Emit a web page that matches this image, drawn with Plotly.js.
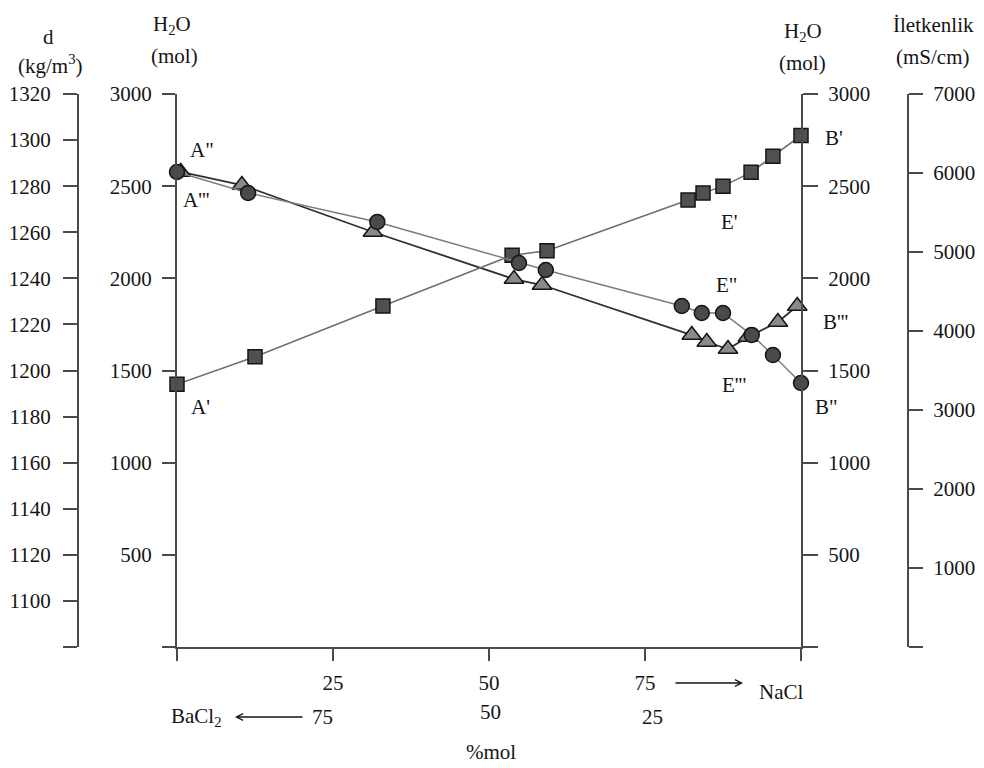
<!DOCTYPE html>
<html><head><meta charset="utf-8">
<script src="https://cdn.plot.ly/plotly-3.0.1.min.js"></script>
<style>html,body{margin:0;padding:0;background:#fff}</style>
</head><body><div id="chart" style="width:984px;height:768px"></div>
<script>
// ---- data ----
// squares: density d (kg/m3)
const molPctSquares = [0, 12.5, 33, 53.7, 59.3, 81.9, 84.3, 87.5, 92, 95.5, 100];
const densityValues = [1194, 1206, 1228, 1250, 1252, 1274, 1277, 1280, 1286, 1293, 1302];
// circles: H2O (mol)
const molPctCircles = [0, 11.4, 32.1, 54.8, 59.1, 80.9, 84.1, 87.5, 92.1, 95.5, 100];
const waterValues = [2577, 2463, 2306, 2083, 2045, 1850, 1812, 1812, 1693, 1584, 1432];
// triangles: conductivity (mS/cm)
const molPctTriangles = [0.6, 10.4, 31.4, 54.0, 58.5, 82.5, 84.9, 88.3, 91.5, 96.3, 99.4];
const conductivityValues = [6013, 5848, 5253, 4658, 4582, 3949, 3861, 3772, 3924, 4114, 4316];

// axis ticks
const xTickVals = [0, 25, 50, 75, 100];
const xTickText = ['', '25', '50', '75', ''];
const dTickVals = [1080,1100,1120,1140,1160,1180,1200,1220,1240,1260,1280,1300,1320];
const dTickText = ['', '1100','1120','1140','1160','1180','1200','1220','1240','1260','1280','1300','1320'];
const waterTickVals = [0, 500, 1000, 1500, 2000, 2500, 3000];
const waterTickText = ['', '500', '1000', '1500', '2000', '2500', '3000'];
const condTickVals = [0, 1000, 2000, 3000, 4000, 5000, 6000, 7000];
const condTickText = ['', '1000', '2000', '3000', '4000', '5000', '6000', '7000'];

// ---- layout helpers ----
const W = 984, H = 768, TOP = 94, BOT = 647;
const PX = v => v / W;
const PY = v => (BOT - v) / (BOT - TOP);
const FONT = '"Liberation Serif", "Times New Roman", serif';
const AX = '#4a4a4a';
const TXT = '#151515';
const FS = 21;

const traces = [
  {x: molPctTriangles, y: conductivityValues, yaxis: 'y', type: 'scatter', mode: 'lines+markers', cliponaxis: false,
   line: {color: '#2f2f2f', width: 1.8},
   marker: {symbol: 'triangle-up', size: 17, color: '#8a8a8a', line: {color: '#151515', width: 1.5}}},
  {x: molPctSquares, y: densityValues, yaxis: 'y2', type: 'scatter', mode: 'lines+markers', cliponaxis: false,
   line: {color: '#6e6e6e', width: 1.5},
   marker: {symbol: 'square', size: 14, color: '#505050', line: {color: '#151515', width: 1.5}}},
  {x: molPctCircles, y: waterValues, yaxis: 'y3', type: 'scatter', mode: 'lines+markers', cliponaxis: false,
   line: {color: '#7c7c7c', width: 1.5},
   marker: {symbol: 'circle', size: 15, color: '#4a4a4a', line: {color: '#151515', width: 1.5}}},
  {x: [], y: [], yaxis: 'y4', type: 'scatter', mode: 'markers', showlegend: false}
];

const commonY = {
  showgrid: false, zeroline: false, showline: true, linecolor: AX, linewidth: 2,
  ticks: 'outside', tickcolor: AX, tickwidth: 2,
  tickfont: {family: FONT, size: FS, color: TXT}, tickmode: 'array', fixedrange: true
};

function lab(text, x, y, size, extra) {
  return Object.assign({text: text, xref: 'paper', yref: 'paper', x: PX(x), y: PY(y),
    xanchor: 'center', yanchor: 'middle', showarrow: false,
    font: {family: FONT, size: size || FS, color: TXT}}, extra || {});
}

const annotations = [
  // axis titles
  lab('d', 48, 37), lab('(kg/m<sup>3</sup>)', 50, 65),
  lab('H<sub>2</sub>O', 172, 25), lab('(mol)', 174, 56),
  lab('H<sub>2</sub>O', 803, 32), lab('(mol)', 802, 63),
  lab('İletkenlik', 933, 25), lab('(mS/cm)', 933, 57),
  // point labels
  lab('A"', 202, 150), lab("A'''", 196, 200), lab("A'", 200, 407),
  lab("B'", 834, 138), lab("B'''", 835, 322), lab('B"', 826, 407),
  lab("E'", 729, 222), lab('E"', 726, 285), lab("E'''", 734, 385),
  // bottom composition labels
  lab('BaCl<sub>2</sub>', 196, 717), lab('75', 322, 717), lab('50', 490, 712), lab('25', 652, 717),
  lab('NaCl', 781, 692), lab('%mol', 491, 752),
  // arrows
  {text: '', xref: 'paper', yref: 'paper', x: PX(235), y: PY(717), ax: 69, ay: 0,
   showarrow: true, arrowhead: 5, arrowsize: 1, arrowwidth: 1.3, arrowcolor: TXT},
  {text: '', xref: 'paper', yref: 'paper', x: PX(743), y: PY(683), ax: -69, ay: 0,
   showarrow: true, arrowhead: 5, arrowsize: 1, arrowwidth: 1.3, arrowcolor: TXT}
];

const layout = {
  width: W, height: H, showlegend: false,
  margin: {l: 0, r: 0, t: TOP, b: H - BOT, pad: 0},
  paper_bgcolor: '#ffffff', plot_bgcolor: 'rgba(0,0,0,0)',
  font: {family: FONT, size: FS, color: TXT},
  xaxis: {domain: [PX(177), PX(801)], range: [0, 100], anchor: 'y3',
    showgrid: false, zeroline: false, showline: true, linecolor: AX, linewidth: 2,
    ticks: 'outside', ticklen: 12, tickwidth: 2, tickcolor: AX,
    tickmode: 'array', tickvals: xTickVals, ticktext: xTickText, ticklabelstandoff: 4,
    tickfont: {family: FONT, size: FS, color: TXT}, fixedrange: true},
  // conductivity (far right)
  yaxis: Object.assign({}, commonY, {range: [0, 7000], anchor: 'free', position: PX(908), side: 'right',
    tickvals: condTickVals, ticktext: condTickText, ticklen: 14, ticklabelstandoff: 6}),
  // density (far left)
  yaxis2: Object.assign({}, commonY, {range: [1080, 1320], anchor: 'free', position: PX(78), side: 'left',
    overlaying: 'y', tickvals: dTickVals, ticktext: dTickText, ticklen: 14, ticklabelstandoff: 8}),
  // H2O left
  yaxis3: Object.assign({}, commonY, {range: [0, 3000], anchor: 'x', side: 'left', overlaying: 'y',
    tickvals: waterTickVals, ticktext: waterTickText, ticklen: 13, ticklabelstandoff: 6}),
  // H2O right
  yaxis4: Object.assign({}, commonY, {range: [0, 3000], anchor: 'x', side: 'right', overlaying: 'y',
    tickvals: waterTickVals, ticktext: waterTickText, ticklen: 15, ticklabelstandoff: 6}),
  annotations: annotations
};

Plotly.newPlot('chart', traces, layout, {displayModeBar: false, staticPlot: true});
</script>
</body></html>
